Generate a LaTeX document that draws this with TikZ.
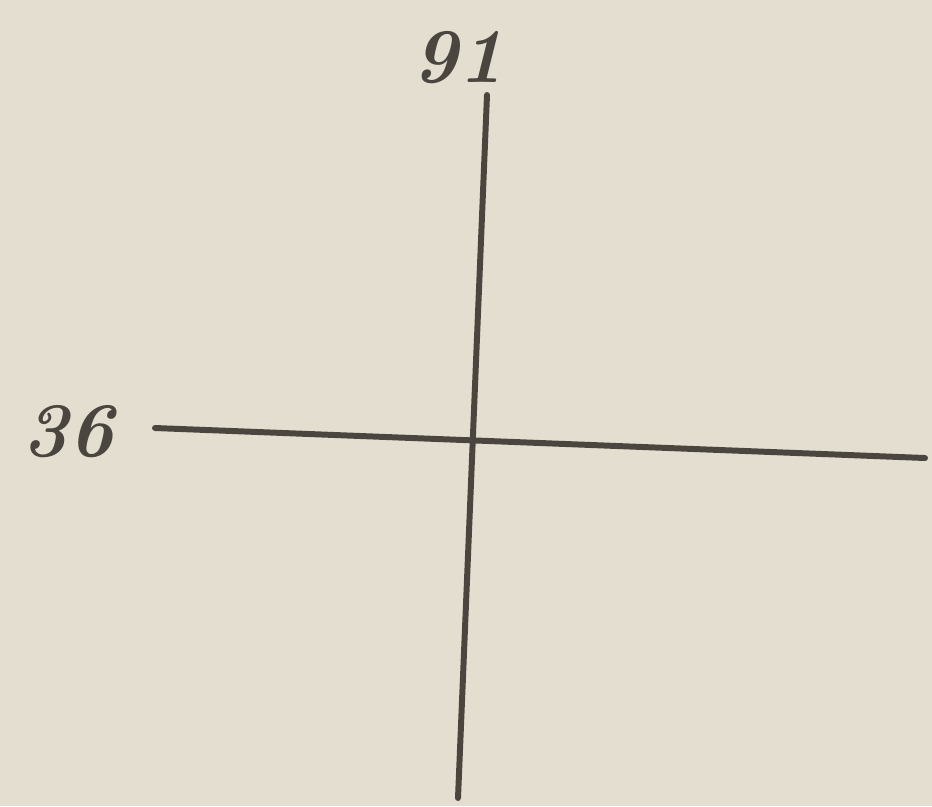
\documentclass[tikz,border=0pt]{standalone}
\usepackage{tikz}

\definecolor{paper}{HTML}{E3DED0}
\definecolor{pencil}{HTML}{4A463F}

\begin{document}
\begin{tikzpicture}[
    x=0.02cm, y=-0.02cm,
    axisline/.style={pencil, line width=3.4pt, line cap=round},
    numlabel/.style={pencil, font=\fontsize{44}{48}\bfseries\itshape\selectfont, inner sep=0pt}
  ]
    % Paper
    \fill[paper] (0,0) rectangle (932,806);
    \useasboundingbox (0,0) rectangle (932,806);

    % Axis end points
    \coordinate (vtop) at (487,95);
    \coordinate (vbot) at (458,798);
    \coordinate (hleft) at (155,428);
    \coordinate (hright) at (925,458);

    % Cross
    \draw[axisline] (vtop) -- (vbot);
    \draw[axisline] (hleft) -- (hright);

    % Labels
    \node[numlabel] (lbltop) at (458,58) {91};
    \node[numlabel] (lblleft) at (68,432) {36};
  \end{tikzpicture}
\end{document}
